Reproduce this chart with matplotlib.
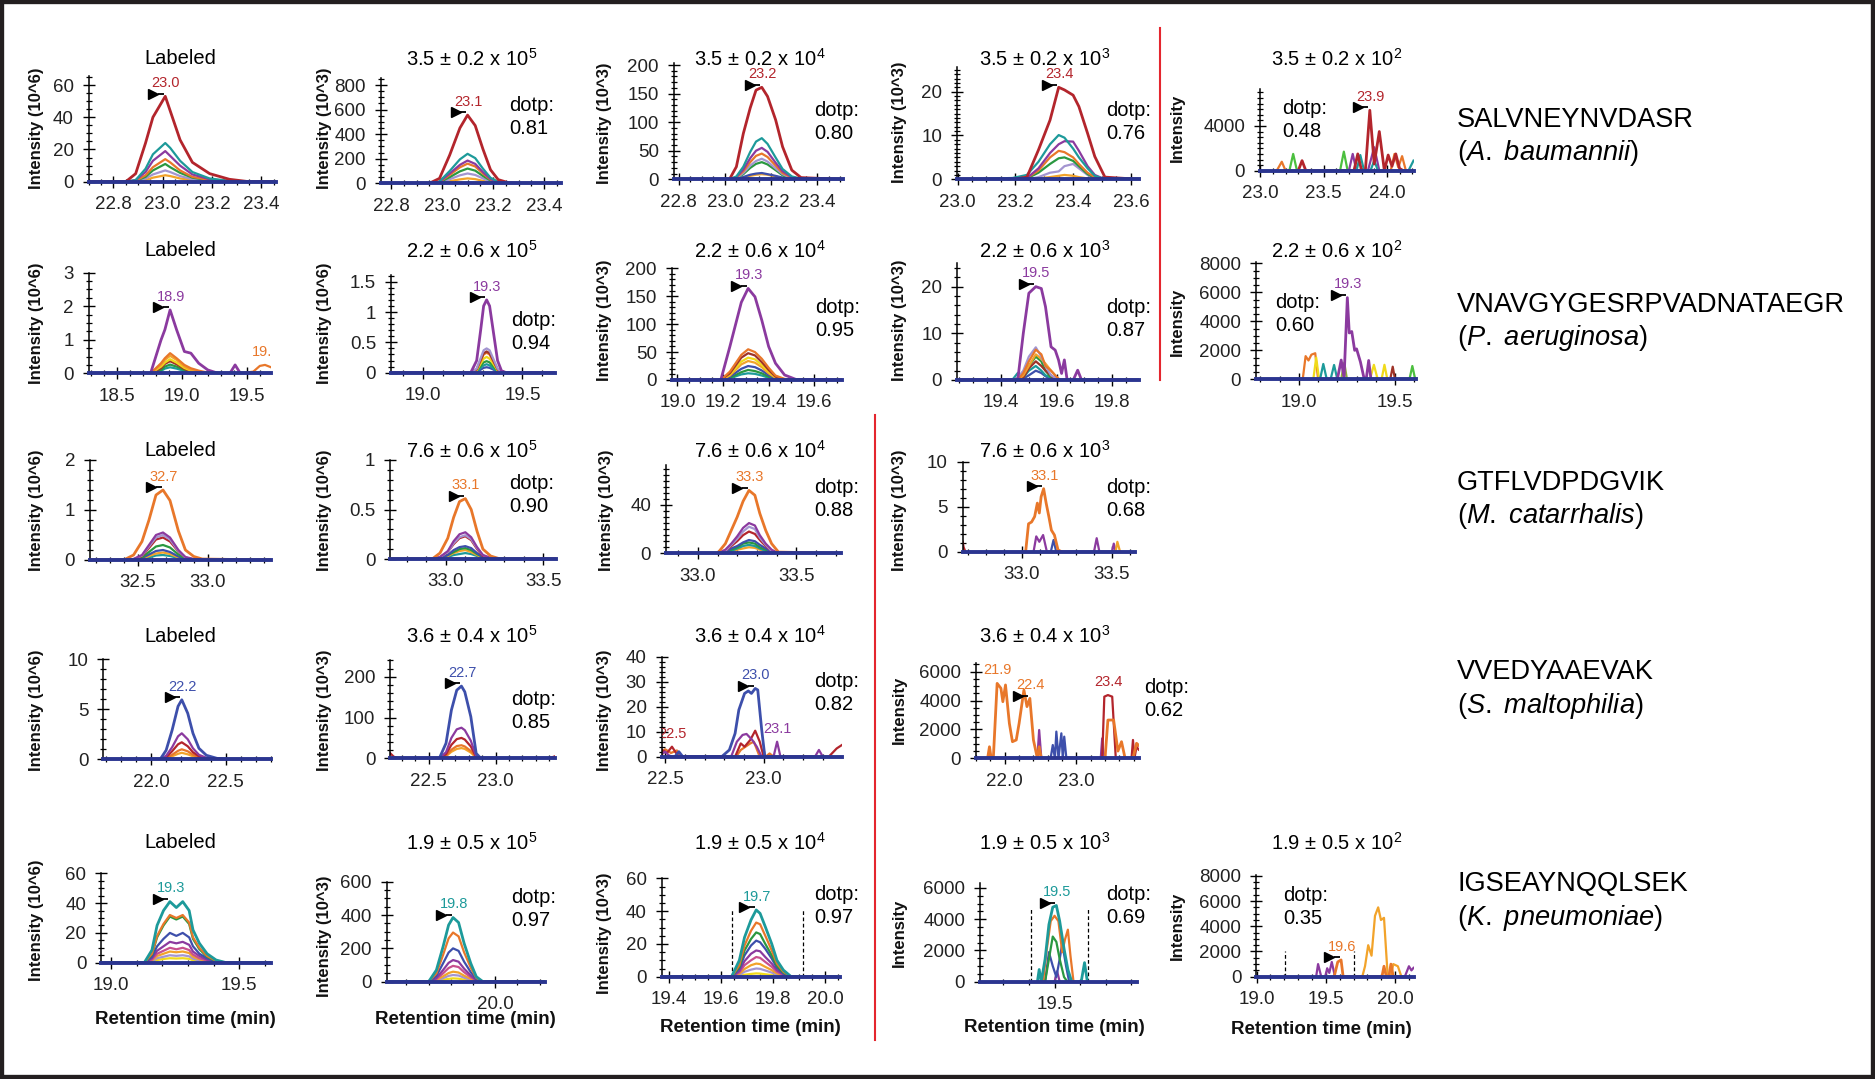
import numpy as np
import matplotlib
matplotlib.use("Agg")
import matplotlib.pyplot as plt
from matplotlib.ticker import MultipleLocator, FormatStrFormatter, FuncFormatter
from matplotlib.transforms import offset_copy, Bbox, TransformedBbox
from matplotlib.patches import Rectangle
from matplotlib.lines import Line2D

plt.rcParams['font.family'] = ['Liberation Sans', 'DejaVu Sans']
plt.rcParams['mathtext.fontset'] = 'custom'
plt.rcParams['mathtext.rm'] = 'Liberation Sans'
plt.rcParams['mathtext.it'] = 'Liberation Sans:italic'
plt.rcParams['mathtext.bf'] = 'Liberation Sans:bold'
plt.rcParams['mathtext.default'] = 'regular'

# ---------------------------------------------------------------- data
# A. baumannii  SALVNEYNVDASR
AB_1 = dict(rt=[22.70, 22.85, 22.89, 22.93, 22.96, 23.01, 23.03, 23.07, 23.12, 23.19, 23.27, 23.35, 23.457],
            gold=[0, 0, 0, 1, 2.5, 4, 3.5, 2, 1, 0.3, 0, 0, 0],
            lav=[0, 0, 0, 2, 4.5, 7, 6, 3.5, 1.5, 0.5, 0, 0, 0],
            green=[0, 0, 0.5, 3, 7, 11, 9, 5.5, 2.5, 0.8, 0, 0, 0],
            orange=[0, 0, 0.5, 4, 9, 14, 12, 7, 3, 1, 0, 0, 0],
            purple=[0, 0, 1, 6, 13, 19, 16, 10, 4.5, 1.5, 0.3, 0, 0],
            teal=[0, 0, 1, 8, 17, 24, 21, 13, 6, 2, 0.5, 0, 0],
            red=[0, 0, 5, 24, 40, 53, 44, 26, 12, 5, 1.5, 0, 0])
AB_2 = dict(rt=[22.76, 22.95, 22.99, 23.03, 23.07, 23.10, 23.13, 23.16, 23.19, 23.22, 23.26, 23.30, 23.465],
            gold=[0, 0, 3, 17, 32, 40, 34, 20, 8, 2, 0, 0, 0],
            lav=[0, 0, 5, 33, 65, 80, 68, 40, 15, 4, 0, 0, 0],
            green=[0, 0, 8, 50, 97, 120, 103, 60, 23, 6, 1, 0, 0],
            orange=[0, 0, 10, 68, 130, 160, 137, 80, 30, 8, 1, 0, 0],
            purple=[0, 0, 12, 80, 150, 185, 158, 92, 35, 9, 1, 0, 0],
            teal=[0, 0, 15, 100, 195, 240, 205, 120, 45, 12, 2, 0, 0],
            red=[0, 0, 40, 230, 450, 555, 470, 280, 110, 30, 5, 0, 0])
AB_3 = dict(rt=[22.78, 23.02, 23.05, 23.08, 23.11, 23.135, 23.16, 23.185, 23.22, 23.25, 23.29, 23.33, 23.51],
            gold=[0, 0, 1, 3, 6, 8, 9, 8, 5, 2, 0.5, 0, 0],
            blue=[0, 0, 1, 4, 8, 10, 11, 9, 6, 3, 1, 0, 0],
            green=[0, 0, 2, 9, 20, 27, 30, 26, 16, 7, 2, 0, 0],
            lav=[0, 0, 2, 11, 24, 32, 36, 31, 19, 9, 2, 0, 0],
            orange=[0, 0, 3, 14, 30, 41, 45, 39, 24, 11, 3, 0, 0],
            purple=[0, 0, 4, 17, 37, 50, 55, 48, 29, 14, 4, 0.5, 0],
            teal=[0, 0, 5, 22, 48, 66, 72, 62, 38, 18, 5, 1, 0],
            red=[0, 0, 22, 80, 125, 156, 161, 145, 104, 57, 16, 3, 0])
AB_4 = dict(rt=[22.998, 23.19, 23.24, 23.28, 23.32, 23.35, 23.37, 23.40, 23.42, 23.45, 23.475, 23.51, 23.627],
            gold=[0, 0, 0, 0.2, 0.5, 0.8, 1, 0.8, 0.5, 0.2, 0, 0, 0],
            lav=[0, 0, 0, 0.5, 1.5, 1.8, 3, 3.5, 2.5, 1, 0.2, 0, 0],
            green=[0, 0, 0.2, 1.5, 3.5, 4.8, 5, 4.2, 3, 1.2, 0.3, 0, 0],
            orange=[0, 0, 0.3, 2, 5, 6.5, 6.2, 5, 3.5, 1.5, 0.5, 0, 0],
            purple=[0, 0, 0.3, 2.5, 6, 8, 8.7, 8.6, 6.5, 3, 1, 0, 0],
            teal=[0, 0.3, 1, 4, 8, 10.1, 9.5, 7, 5, 2.5, 0.8, 0, 0],
            red=[0, 0, 0.5, 6.7, 13.5, 21, 20.4, 19.2, 16.6, 10.5, 5.2, 0.5, 0])
AB_5 = dict(orange=([23.13, 23.17, 23.20, 24.03, 24.06, 24.09, 24.12, 24.15],
                    [0, 800, 0, 0, 1500, 300, 1300, 0]),
            ltgreen=([23.23, 23.26, 23.29, 23.63, 23.66, 23.69], [0, 1500, 0, 0, 1700, 0]),
            purple=([23.70, 23.73, 23.76, 23.85, 23.90, 23.94], [0, 1500, 0, 0, 2100, 0]),
            teal=([23.76, 23.79, 23.82, 23.87, 23.90, 23.93, 24.17, 24.21], [0, 1400, 0, 0, 900, 0, 0, 900]),
            red=([23.30, 23.33, 23.36, 23.74, 23.77, 23.80, 23.83, 23.865, 23.90, 23.94, 23.98, 24.01, 24.04, 24.07, 24.10, 24.13],
                 [0, 900, 0, 0, 1500, 0, 0, 5400, 600, 3500, 0, 1400, 400, 1500, 200, 0]))

# P. aeruginosa  VNAVGYGESRPVADNATAEGR
PA_1 = dict(rt=[18.285, 18.76, 18.84, 18.87, 18.91, 18.96, 19.02, 19.07, 19.13, 19.20, 19.28, 19.37, 19.41, 19.45, 19.55, 19.60, 19.64, 19.686],
            teal=[0, 0, 0.07, 0.14, 0.18, 0.14, 0.07, 0.03, 0, 0, 0, 0, 0, 0, 0, 0, 0, 0],
            green=[0, 0, 0.1, 0.2, 0.26, 0.2, 0.1, 0.05, 0.01, 0, 0, 0, 0, 0, 0, 0, 0, 0],
            brown=[0, 0, 0.15, 0.28, 0.36, 0.27, 0.13, 0.06, 0.02, 0, 0, 0, 0, 0, 0, 0, 0, 0],
            yellow=[0, 0, 0.2, 0.32, 0.42, 0.32, 0.16, 0.08, 0.03, 0, 0, 0, 0, 0, 0, 0, 0, 0],
            gold=[0, 0, 0.25, 0.4, 0.52, 0.4, 0.2, 0.1, 0.05, 0, 0, 0, 0, 0, 0, 0, 0, 0],
            orange=[0, 0, 0.3, 0.45, 0.6, 0.45, 0.25, 0.15, 0.08, 0.02, 0, 0, 0, 0, 0.05, 0.22, 0.25, 0.18],
            purple=[0, 0, 0.99, 1.3, 1.89, 1.3, 0.65, 0.6, 0.3, 0.1, 0, 0, 0.25, 0, 0, 0, 0, 0])
PA_2 = dict(rt=[18.839, 19.24, 19.27, 19.29, 19.305, 19.32, 19.335, 19.355, 19.375, 19.395, 19.42, 19.664],
            blue=[0, 0, 0.01, 0.05, 0.08, 0.09, 0.08, 0.05, 0.01, 0, 0, 0],
            teal=[0, 0, 0.02, 0.08, 0.12, 0.14, 0.12, 0.07, 0.02, 0, 0, 0],
            green=[0, 0, 0.03, 0.11, 0.17, 0.19, 0.17, 0.1, 0.03, 0, 0, 0],
            yellow=[0, 0, 0.04, 0.15, 0.23, 0.26, 0.23, 0.14, 0.04, 0, 0, 0],
            orange=[0, 0, 0.05, 0.19, 0.3, 0.33, 0.3, 0.18, 0.05, 0.01, 0, 0],
            brown=[0, 0, 0.06, 0.21, 0.32, 0.35, 0.32, 0.19, 0.06, 0.01, 0, 0],
            lav=[0, 0, 0.07, 0.24, 0.37, 0.4, 0.37, 0.22, 0.07, 0.01, 0, 0],
            purple=[0, 0, 0.2, 0.7, 1.1, 1.2, 1.1, 0.65, 0.2, 0.03, 0, 0])
PA_3 = dict(rt=[18.975, 19.19, 19.23, 19.28, 19.31, 19.34, 19.37, 19.40, 19.43, 19.47, 19.52, 19.722],
            teal=[0, 0, 3, 10, 12, 11, 8, 4, 1, 0, 0, 0],
            green=[0, 0, 4, 14, 18, 16, 12, 6, 2, 0, 0, 0],
            blue=[0, 0, 6, 20, 25, 23, 17, 9, 3, 0.5, 0, 0],
            gold=[0, 0, 8, 28, 34, 31, 23, 12, 4, 1, 0, 0],
            yellow=[0, 0, 10, 33, 40, 37, 27, 15, 5, 1, 0, 0],
            brown=[0, 0, 12, 40, 48, 44, 32, 18, 6, 1, 0, 0],
            orange=[0, 0, 15, 45, 55, 50, 38, 22, 8, 2, 0, 0],
            purple=[0, 0, 60, 139, 164, 149, 107, 60, 30, 9, 1, 0])
PA_4 = dict(rt=[19.241, 19.44, 19.46, 19.48, 19.50, 19.525, 19.545, 19.56, 19.58, 19.595, 19.607, 19.618, 19.628, 19.638, 19.66, 19.676, 19.69, 19.896],
            blue=[0, 0, 0, 0.3, 1, 2, 1.5, 0.8, 0.2, 0, 0, 0, 0, 0, 0, 0, 0, 0],
            teal=[0, 0, 1.5, 0.5, 2, 3, 2, 1, 0.5, 0, 0, 0, 0, 0, 0, 0, 0, 0],
            green=[0, 0, 0, 1, 3, 5, 4, 2, 0.5, 0, 0, 0, 0, 0, 0, 0, 0, 0],
            brown=[0, 0, 0, 0.5, 2.5, 4, 3, 2, 1, 0, 0, 0, 0, 0, 0, 0, 0, 0],
            gold=[0, 0, 0, 1, 3, 5.5, 4.5, 3.5, 2, 1, 0, 0, 0, 0, 0, 0, 0, 0],
            lav=[0, 0, 0.5, 2, 5, 7, 5, 3, 1, 0.5, 0, 0, 0, 0, 0, 0, 0, 0],
            orange=[0, 0, 0, 1.5, 4, 6.5, 5.5, 3, 2, 1, 0.3, 0, 0, 0, 0, 0, 0, 0],
            purple=[0, 0, 0, 10, 18.6, 20, 19.6, 15.7, 7.1, 6.4, 4.3, 1.4, 4.3, 0, 0, 2.1, 0, 0])
PA_5 = dict(orange=([19.02, 19.035, 19.05, 19.065, 19.085, 19.10], [0, 1600, 1300, 1700, 1800, 0]),
            yellow=([19.075, 19.09, 19.105, 19.37, 19.39, 19.41, 19.43, 19.445, 19.46], [0, 1500, 0, 0, 1000, 0, 0, 1000, 0]),
            teal=([19.11, 19.127, 19.145, 19.165, 19.183, 19.20], [0, 1060, 0, 0, 990, 0]),
            olive=([19.22, 19.236, 19.25], [0, 1150, 0]),
            brown=([19.475, 19.488, 19.50], [0, 870, 0]),
            ltgreen=([19.575, 19.59, 19.605], [0, 920, 0]),
            purple=([19.20, 19.22, 19.235, 19.252, 19.262, 19.275, 19.29, 19.30, 19.32, 19.34, 19.35, 19.363, 19.375],
                    [0, 1330, 100, 5640, 3200, 3300, 2000, 2100, 1200, 0, 0, 1300, 0]))

# M. catarrhalis  GTFLVDPDGVIK
MC_1 = dict(rt=[32.159, 32.40, 32.47, 32.53, 32.58, 32.63, 32.68, 32.73, 32.79, 32.84, 32.90, 32.96, 33.451],
            teal=[0, 0, 0, 0.02, 0.05, 0.09, 0.1, 0.08, 0.04, 0.01, 0, 0, 0],
            gold=[0, 0, 0, 0.03, 0.08, 0.13, 0.15, 0.12, 0.05, 0.01, 0, 0, 0],
            blue=[0, 0, 0, 0.04, 0.11, 0.18, 0.2, 0.16, 0.07, 0.02, 0, 0, 0],
            green=[0, 0, 0.01, 0.05, 0.16, 0.27, 0.3, 0.25, 0.11, 0.03, 0, 0, 0],
            red=[0, 0, 0.01, 0.08, 0.24, 0.41, 0.45, 0.37, 0.17, 0.05, 0.01, 0, 0],
            lav=[0, 0, 0.02, 0.09, 0.27, 0.45, 0.5, 0.41, 0.18, 0.05, 0.01, 0, 0],
            purple=[0, 0, 0.02, 0.1, 0.3, 0.5, 0.55, 0.45, 0.2, 0.06, 0.02, 0, 0],
            orange=[0, 0, 0.1, 0.37, 0.8, 1.3, 1.4, 1.19, 0.58, 0.2, 0.07, 0.02, 0])
MC_2 = dict(rt=[32.716, 32.93, 32.97, 33.01, 33.04, 33.07, 33.10, 33.13, 33.16, 33.19, 33.23, 33.28, 33.563],
            teal=[0, 0, 0, 0.02, 0.04, 0.05, 0.06, 0.05, 0.03, 0.01, 0, 0, 0],
            gold=[0, 0, 0.01, 0.03, 0.06, 0.08, 0.09, 0.07, 0.04, 0.01, 0, 0, 0],
            green=[0, 0, 0.01, 0.04, 0.07, 0.1, 0.11, 0.09, 0.05, 0.02, 0, 0, 0],
            blue=[0, 0, 0.01, 0.04, 0.09, 0.12, 0.13, 0.11, 0.06, 0.02, 0, 0, 0],
            red=[0, 0, 0.02, 0.07, 0.15, 0.21, 0.23, 0.19, 0.1, 0.03, 0.01, 0, 0],
            lav=[0, 0, 0.02, 0.07, 0.16, 0.22, 0.24, 0.2, 0.11, 0.04, 0.01, 0, 0],
            purple=[0, 0, 0.02, 0.08, 0.18, 0.25, 0.27, 0.22, 0.12, 0.04, 0.01, 0, 0],
            orange=[0, 0, 0.06, 0.21, 0.42, 0.58, 0.61, 0.5, 0.28, 0.1, 0.03, 0, 0])
MC_3 = dict(rt=[32.838, 33.10, 33.14, 33.17, 33.20, 33.23, 33.26, 33.29, 33.315, 33.345, 33.375, 33.41, 33.73],
            gold=[0, 0, 0.5, 1.5, 3, 4, 5, 4.5, 3, 1.5, 0.5, 0, 0],
            teal=[0, 0, 1, 2, 4, 6, 7, 6, 4, 2, 0.5, 0, 0],
            green=[0, 0, 1, 3, 5, 8, 9, 8, 5, 3, 1, 0, 0],
            blue=[0, 0, 1, 4, 6, 9, 11, 10, 7, 4, 1, 0, 0],
            red=[0, 0, 2, 6, 10, 15, 18, 16, 11, 6, 2, 0, 0],
            lav=[0, 0, 2, 7, 12, 18, 22, 20, 13, 7, 2, 0, 0],
            purple=[0, 0, 3, 8, 14, 21, 25, 23, 15, 8, 3, 0, 0],
            orange=[0, 0, 8, 19, 30, 43, 52, 48, 33, 19, 8, 1, 0])
MC_4 = dict(red=([32.67, 32.675, 32.685], [1.1, 0.5, 0]),
            purple=([33.064, 33.079, 33.096, 33.117, 33.138, 33.40, 33.415, 33.43, 33.50, 33.51, 33.52],
                    [0, 1.7, 1.1, 1.85, 0, 0, 1.5, 0, 0, 0.9, 0]),
            blue=([33.16, 33.175, 33.19], [0, 1.3, 0]),
            gold=([33.52, 33.53, 33.545], [0, 1.1, 0]),
            orange=([33.02, 33.036, 33.053, 33.07, 33.085, 33.096, 33.106, 33.12, 33.134, 33.149, 33.163, 33.18, 33.20, 33.22],
                    [0, 3.1, 3.3, 3.9, 5.4, 4.3, 6.1, 7.0, 5.4, 3.9, 2.4, 1.85, 0.2, 0]))

# S. maltophilia  VVEDYAAEVAK
SM_1 = dict(rt=[21.679, 22.06, 22.10, 22.14, 22.18, 22.205, 22.245, 22.28, 22.32, 22.37, 22.44, 22.50, 22.803],
            gold=[0, 0, 0.05, 0.3, 0.55, 0.65, 0.5, 0.3, 0.12, 0.04, 0, 0, 0],
            orange=[0, 0, 0.1, 0.45, 0.85, 1.0, 0.8, 0.45, 0.2, 0.06, 0, 0, 0],
            red=[0, 0, 0.2, 0.8, 1.5, 1.7, 1.3, 0.7, 0.3, 0.1, 0.02, 0, 0],
            purple=[0, 0, 0.35, 1.2, 2.3, 2.6, 2.0, 1.1, 0.45, 0.15, 0.03, 0, 0],
            blue=[0, 0, 0.9, 2.9, 5.3, 5.95, 4.6, 2.6, 1.1, 0.4, 0.1, 0, 0])
SM_2 = dict(rt=[22.215, 22.24, 22.27, 22.58, 22.63, 22.67, 22.71, 22.745, 22.77, 22.815, 22.855, 22.89, 23.40, 23.443],
            gold=[0, 0, 0, 0, 5, 16, 23, 25, 23, 14, 1.5, 0, 0, 0],
            orange=[0, 0, 0, 0, 6, 21, 30, 32, 29, 18, 2, 0, 0, 0],
            red=[12, 4, 0, 0, 10, 33, 47, 50, 46, 29, 3, 0, 0, 5],
            purple=[0, 0, 0, 0, 15, 50, 71, 75, 69, 43, 5, 0, 0, 0],
            blue=[0, 0, 0, 0, 37, 118, 167, 177, 163, 102, 12, 0, 0, 0])
SM_3 = dict(orange=([22.482, 22.50, 22.53, 22.56, 22.58, 22.86, 22.884, 22.932, 22.95, 22.98, 23.01, 23.03, 23.05],
                    [0.5, 3, 1.5, 2.5, 0, 0, 2.7, 5.3, 6, 0, 0, 1.3, 0]),
            red=([22.482, 22.486, 22.51, 22.535, 22.564, 22.58, 22.855, 22.884, 22.903, 22.932, 22.957, 22.98, 23.0, 23.33, 23.37, 23.397],
                 [1, 2.7, 1.5, 4, 0.5, 0, 0, 5.3, 4, 6.7, 10.4, 6, 0, 0, 3.3, 4.7]),
            purple=([22.482, 22.50, 22.52, 22.54, 22.835, 22.864, 22.893, 22.913, 22.942, 22.965, 22.99, 23.05, 23.068, 23.085, 23.26, 23.28, 23.30],
                    [1, 2, 0.5, 0, 0, 6, 8.7, 9.1, 6.7, 4, 0, 0, 6, 0, 0, 2.7, 0]),
            blue=([22.55, 22.57, 22.59, 22.787, 22.826, 22.855, 22.874, 22.903, 22.922, 22.938, 22.957, 22.97, 22.99, 23.006],
                  [0, 2, 0, 0, 2.7, 9.3, 18.7, 25.3, 26.3, 25.3, 27.3, 26.7, 10.7, 0]))
SM_4 = dict(blue=([22.64, 22.67, 22.70, 22.72, 22.75, 22.79, 22.81, 22.83, 22.86],
                  [0, 920, 0, 1850, 0, 1730, 0, 1500, 0]),
            purple=([22.455, 22.48, 22.51, 23.34, 23.36, 23.38], [0, 1960, 0, 0, 1380, 0]),
            red=([23.36, 23.39, 23.44, 23.50, 23.55, 23.77, 23.79, 23.81, 23.84, 23.87],
                 [0, 4270, 4380, 4270, 0, 0, 1270, 0, 800, 600]),
            orange=([21.76, 21.786, 21.81, 21.84, 21.893, 21.946, 21.973, 22.01, 22.064, 22.107, 22.16, 22.2, 22.267, 22.31,
                     22.35, 22.40, 22.455, 22.48, 22.51, 23.40, 23.44, 23.52, 23.58, 23.63, 23.68, 23.79, 23.84, 23.87],
                    [0, 800, 0, 0, 5190, 4850, 3920, 5080, 2420, 1150, 1270, 2420, 4730, 3580,
                     4150, 1270, 0, 800, 0, 0, 2650, 2650, 500, 1150, 0, 0, 1040, 900]))

# K. pneumoniae  IGSEAYNQQLSEK
KP_1 = dict(rt=[18.963, 19.13, 19.16, 19.18, 19.205, 19.23, 19.255, 19.28, 19.305, 19.32, 19.345, 19.375, 19.41, 19.45, 19.624],
            yellow=[0, 0, 0.6, 1.8, 2.5, 3, 2.8, 3, 2.6, 1.6, 0.9, 0.4, 0.1, 0, 0],
            lav=[0, 0, 1, 3, 4, 5, 4.6, 5, 4.3, 2.7, 1.5, 0.7, 0.2, 0, 0],
            gold=[0, 0, 1.5, 4.5, 6, 7.5, 7, 7.5, 6.5, 4, 2.3, 1, 0.3, 0, 0],
            pink=[0, 0, 2, 6, 8, 10, 9, 10, 8.5, 5.5, 3, 1.5, 0.4, 0, 0],
            purple=[0, 0, 3, 8, 11, 14, 13, 14, 12, 7.5, 4.5, 2, 0.5, 0, 0],
            blue=[0, 0, 4, 11, 16, 20, 18, 20, 17, 11, 6, 3, 0.8, 0, 0],
            green=[0, 0, 5.5, 17, 25, 31, 29, 31, 26, 16, 9, 4, 1, 0, 0],
            orange=[0, 0, 6, 18, 26, 32, 30, 32, 27, 17, 10, 4.5, 1.3, 0, 0],
            teal=[0, 0, 8.5, 25, 35, 41, 37, 41, 35, 22, 13, 6, 1.8, 0, 0])
KP_2 = dict(rt=[19.51, 19.70, 19.735, 19.765, 19.79, 19.81, 19.835, 19.86, 19.89, 19.915, 19.945, 20.226],
            yellow=[0, 0, 3, 11, 17, 20, 18, 12, 6, 2, 0, 0],
            lav=[0, 0, 7, 21, 35, 40, 37, 24, 11, 3, 0, 0],
            gold=[0, 0, 10, 32, 52, 60, 55, 36, 17, 5, 0, 0],
            pink=[0, 0, 16, 50, 82, 95, 88, 57, 27, 7, 0, 0],
            purple=[0, 0, 22, 70, 113, 130, 120, 78, 37, 10, 0, 0],
            blue=[0, 0, 35, 110, 175, 200, 185, 120, 57, 16, 0, 0],
            orange=[0, 0, 50, 160, 260, 295, 272, 176, 84, 23, 0, 0],
            teal=[0, 0, 70, 210, 340, 385, 355, 230, 110, 30, 0, 0])
KP_3 = dict(rt=[19.37, 19.64, 19.67, 19.69, 19.715, 19.735, 19.75, 19.77, 19.795, 19.815, 19.84, 19.87, 20.058],
            yellow=[0, 0, 0.5, 1.2, 1.7, 2, 1.9, 1.5, 1, 0.5, 0.2, 0, 0],
            lav=[0, 0, 1.1, 3, 4.3, 5, 4.8, 3.8, 2.5, 1.2, 0.4, 0, 0],
            gold=[0, 0, 1.8, 4.7, 7, 8, 7.7, 6, 4, 2, 0.7, 0, 0],
            pink=[0, 0, 2.6, 7, 10, 12, 11.5, 9, 6, 3, 1, 0, 0],
            purple=[0, 0, 3.5, 9.5, 14, 16, 15.5, 12, 8, 4, 1.5, 0, 0],
            blue=[0, 0, 5, 13, 19, 22, 21, 17, 11, 5.5, 2, 0, 0],
            green=[0, 0, 6, 16, 23, 27, 26, 20, 13, 6.5, 2.5, 0, 0],
            orange=[0, 0, 7, 19, 28, 33, 32, 25, 16, 8, 3, 0, 0],
            teal=[0, 0, 10, 24, 34.6, 40.7, 38.6, 30.5, 20, 10, 4, 0, 0])
KP_4 = dict(purple=([19.50, 19.51, 19.52], [0, 670, 0]),
            blue=([19.463, 19.478, 19.493, 19.507, 19.52, 19.53, 19.545, 19.557], [0, 1890, 1000, 300, 1450, 2440, 1000, 0]),
            green=([19.463, 19.478, 19.493, 19.507, 19.52, 19.537, 19.55], [0, 1450, 2890, 2550, 1450, 300, 0]),
            orange=([19.455, 19.47, 19.485, 19.50, 19.515, 19.53, 19.54, 19.552, 19.562, 19.574],
                    [0, 2110, 3880, 4220, 3880, 1890, 2660, 3330, 1670, 0]),
            teal=([19.433, 19.44, 19.448, 19.463, 19.478, 19.493, 19.507, 19.52, 19.537, 19.552, 19.567, 19.604, 19.617, 19.628],
                  [0, 780, 0, 1440, 3660, 4770, 4880, 3880, 2110, 780, 0, 0, 1220, 0]))
KP_5 = dict(gold=([19.763, 19.783, 19.806, 19.83, 19.855, 19.878, 19.898, 19.92, 19.947, 19.97, 19.987, 20.02, 20.046],
                  [0, 830, 2500, 1670, 4830, 5500, 4500, 4670, 0, 0, 1000, 830, 0]),
            purple=([19.43, 19.444, 19.467, 19.495, 19.51, 19.525, 19.543, 19.566, 20.07, 20.10, 20.118, 20.133],
                    [0, 1000, 0, 0, 670, 300, 1170, 0, 0, 830, 500, 700]),
            orange=([19.56, 19.586, 19.61, 19.625, 19.905, 19.92, 19.937, 19.955, 19.97, 19.987],
                    [0, 1170, 1330, 0, 0, 830, 0, 0, 1000, 0]))

# integration boundaries (retention time)
BOUNDS = {'KP_3': [19.64, 19.917], 'KP_4': [19.41, 19.63], 'KP_5': [19.207, 19.70]}

# labelled peaks: (retention-time label, trace); first one gets the arrow
PEAKS = {
    'AB_1': [('23.0', 'red')], 'AB_2': [('23.1', 'red')], 'AB_3': [('23.2', 'red')],
    'AB_4': [('23.4', 'red')], 'AB_5': [('23.9', 'red')],
    'PA_1': [('18.9', 'purple'), ('19.6', 'orange')], 'PA_2': [('19.3', 'purple')],
    'PA_3': [('19.3', 'purple')], 'PA_4': [('19.5', 'purple')], 'PA_5': [('19.3', 'purple')],
    'MC_1': [('32.7', 'orange')], 'MC_2': [('33.1', 'orange')], 'MC_3': [('33.3', 'orange')],
    'MC_4': [('33.1', 'orange')],
    'SM_1': [('22.2', 'blue')], 'SM_2': [('22.7', 'blue')],
    'SM_3': [('23.0', 'blue'), ('22.5', 'red'), ('23.1', 'purple')],
    'SM_4': [('22.4', 'orange'), ('21.9', 'orange'), ('23.4', 'red')],
    'KP_1': [('19.3', 'teal')], 'KP_2': [('19.8', 'teal')], 'KP_3': [('19.7', 'teal')],
    'KP_4': [('19.5', 'teal')], 'KP_5': [('19.6', 'orange')],
}

TITLES = {
    'AB_1': 'Labeled', 'AB_2': '3.5 ± 0.2 x 10$^{5}$', 'AB_3': '3.5 ± 0.2 x 10$^{4}$',
    'AB_4': '3.5 ± 0.2 x 10$^{3}$', 'AB_5': '3.5 ± 0.2 x 10$^{2}$',
    'PA_1': 'Labeled', 'PA_2': '2.2 ± 0.6 x 10$^{5}$', 'PA_3': '2.2 ± 0.6 x 10$^{4}$',
    'PA_4': '2.2 ± 0.6 x 10$^{3}$', 'PA_5': '2.2 ± 0.6 x 10$^{2}$',
    'MC_1': 'Labeled', 'MC_2': '7.6 ± 0.6 x 10$^{5}$', 'MC_3': '7.6 ± 0.6 x 10$^{4}$',
    'MC_4': '7.6 ± 0.6 x 10$^{3}$',
    'SM_1': 'Labeled', 'SM_2': '3.6 ± 0.4 x 10$^{5}$', 'SM_3': '3.6 ± 0.4 x 10$^{4}$',
    'SM_4': '3.6 ± 0.4 x 10$^{3}$',
    'KP_1': 'Labeled', 'KP_2': '1.9 ± 0.5 x 10$^{5}$', 'KP_3': '1.9 ± 0.5 x 10$^{4}$',
    'KP_4': '1.9 ± 0.5 x 10$^{3}$', 'KP_5': '1.9 ± 0.5 x 10$^{2}$',
}

DOTP = {'AB_2': '0.81', 'AB_3': '0.80', 'AB_4': '0.76', 'AB_5': '0.48',
        'PA_2': '0.94', 'PA_3': '0.95', 'PA_4': '0.87', 'PA_5': '0.60',
        'MC_2': '0.90', 'MC_3': '0.88', 'MC_4': '0.68',
        'SM_2': '0.85', 'SM_3': '0.82', 'SM_4': '0.62',
        'KP_2': '0.97', 'KP_3': '0.97', 'KP_4': '0.69', 'KP_5': '0.35'}

PEPTIDES = ['SALVNEYNVDASR', 'VNAVGYGESRPVADNATAEGR', 'GTFLVDPDGVIK', 'VVEDYAAEVAK', 'IGSEAYNQQLSEK']
SPECIES = ['A.\\ baumannii', 'P.\\ aeruginosa', 'M.\\ catarrhalis', 'S.\\ maltophilia', 'K.\\ pneumoniae']

PANELS = dict(AB_1=AB_1, AB_2=AB_2, AB_3=AB_3, AB_4=AB_4, AB_5=AB_5,
              PA_1=PA_1, PA_2=PA_2, PA_3=PA_3, PA_4=PA_4, PA_5=PA_5,
              MC_1=MC_1, MC_2=MC_2, MC_3=MC_3, MC_4=MC_4,
              SM_1=SM_1, SM_2=SM_2, SM_3=SM_3, SM_4=SM_4,
              KP_1=KP_1, KP_2=KP_2, KP_3=KP_3, KP_4=KP_4, KP_5=KP_5)

# ---------------------------------------------------------------- layout / style
W, H, DPI = 1875, 1079, 100
COL = {'red': '#b3252c', 'teal': '#1d9a9a', 'purple': '#8b3a9f', 'orange': '#e8772a',
       'green': '#2a9840', 'blue': '#3d4fab', 'gold': '#f2a32a', 'yellow': '#f0da1a',
       'lav': '#a395d0', 'brown': '#9e3328', 'olive': '#8fae3c', 'pink': '#c8508e',
       'ltgreen': '#4cbf3f'}
NAVY = '#2b3590'

# key, x0, x1, ytop, y0 (pixels), xlo, xhi, ymax, xmaj, xmin, ymaj, ymin, y-unit, ylabel x, ylabel y
LAYOUT = [
    ('AB_1', 88.8, 275.5, 76, 181.7, 22.70, 23.457, 65.6, 0.2, 0.05, 20, 5, '6', 36.4, 128),
    ('AB_2', 380.8, 560.7, 78, 183.3, 22.76, 23.465, 857, 0.2, 0.05, 200, 50, '3', 325, 128),
    ('AB_3', 673.8, 843.3, 63.3, 179.3, 22.779, 23.513, 203, 0.2, 0.05, 50, 10, '3', 605, 123),
    ('AB_4', 957, 1138.7, 66.7, 179.3, 22.998, 23.627, 25.7, 0.2, 0.05, 10, 1, '3', 899.6, 122),
    ('AB_5', 1260, 1413.5, 89, 170.7, 22.998, 24.21, 7300, 0.5, 0.1, 4000, 500, '', 1177.7, 128),
    ('PA_1', 88.8, 271, 272.7, 373.3, 18.285, 19.686, 3, 0.5, 0.1, 1, 0.25, '6', 36.4, 323),
    ('PA_2', 391, 555, 275, 372.7, 18.839, 19.664, 1.61, 0.5, 0.1, 0.5, 0.1, '6', 325, 323),
    ('PA_3', 671.8, 842, 268.3, 380, 18.975, 19.722, 200, 0.2, 0.05, 50, 10, '3', 605, 320),
    ('PA_4', 957, 1138.7, 263.3, 380, 19.241, 19.896, 25, 0.2, 0.05, 10, 2, '3', 899.6, 320),
    ('PA_5', 1256, 1415.8, 262, 379.3, 18.777, 19.608, 8100, 0.5, 0.1, 2000, 500, '', 1177.7, 322),
    ('MC_1', 90, 271, 460, 560, 32.159, 33.451, 2, 0.5, 0.1, 1, 0.2, '6', 36.4, 510),
    ('MC_2', 390.4, 555.7, 460, 559, 32.716, 33.563, 1, 0.5, 0.1, 0.5, 0.1, '6', 325, 510),
    ('MC_3', 666, 841.4, 465, 553.3, 32.838, 33.73, 73, 0.5, 0.1, 40, 5, '3', 607, 510),
    ('MC_4', 962.7, 1135, 461.7, 551.7, 32.67, 33.628, 10, 0.5, 0.1, 5, 1, '3', 899.6, 510),
    ('SM_1', 103.3, 271, 659.3, 759.3, 21.679, 22.803, 10, 0.5, 0.1, 5, 1, '6', 36.4, 710),
    ('SM_2', 390.4, 555, 660, 758.3, 22.215, 23.443, 241, 0.5, 0.1, 100, 20, '3', 325, 710),
    ('SM_3', 661.5, 842, 656.7, 756.7, 22.482, 23.397, 40, 0.5, 0.1, 10, 2, '3', 605, 710),
    ('SM_4', 976, 1138.7, 663.3, 758.3, 21.598, 23.87, 6580, 1.0, 0.2, 2000, 500, '', 899.6, 710),
    ('KP_1', 101.4, 271, 873.3, 962.7, 18.963, 19.624, 60, 0.5, 0.1, 20, 5, '6', 36.4, 920),
    ('KP_2', 386.5, 545.3, 881.7, 981.7, 19.51, 20.226, 600, 0.5, 0.1, 200, 50, '3', 325, 936.7),
    ('KP_3', 661.5, 840, 878.3, 976.7, 19.37, 20.058, 60, 0.2, 0.05, 20, 5, '3', 605, 933),
    ('KP_4', 980, 1136.8, 883.3, 981.7, 19.209, 19.821, 6300, 0.5, 0.1, 2000, 500, '', 899.6, 933),
    ('KP_5', 1256.3, 1413.5, 874.6, 976.7, 18.998, 20.133, 8100, 0.5, 0.1, 2000, 500, '', 1177.7, 926),
]
TITLE_X = [180, 472, 760, 1045, 1337]
TITLE_Y = {'AB': 59, 'PA': 251, 'MC': 451, 'SM': 636, 'KP': 843}
DOTP_POS = {'AB_2': (509, 117), 'AB_3': (814, 122), 'AB_4': (1106, 122), 'AB_5': (1282, 120),
            'PA_2': (511, 332), 'PA_3': (815, 319), 'PA_4': (1106, 319), 'PA_5': (1275, 314),
            'MC_2': (509, 495), 'MC_3': (814, 499), 'MC_4': (1106, 499),
            'SM_2': (511, 711), 'SM_3': (814, 693), 'SM_4': (1144.5, 699),
            'KP_2': (511, 909), 'KP_3': (814, 906), 'KP_4': (1106, 906), 'KP_5': (1283, 907)}
BOUND_FRAC = {'KP_3': 0.68, 'KP_4': 0.76, 'KP_5': 0.25}
XLABEL_POS = {'KP_1': (185.6, 1020), 'KP_2': (465, 1020), 'KP_3': (750, 1028),
              'KP_4': (1054.5, 1028), 'KP_5': (1321, 1029)}
PEP_Y = [(120, 153), (305, 338), (483, 516), (672, 706), (884, 918)]

fig = plt.figure(figsize=(W / DPI, H / DPI), dpi=DPI)
fig.patch.set_facecolor('white')


def fx(px):
    return px / W


def fy(py):
    return 1 - py / H


def get_xy(panel, name):
    v = panel[name]
    if isinstance(v, tuple):
        return v
    return panel['rt'], v


def apex(xs, ys, center):
    xs = np.asarray(xs, float)
    ys = np.asarray(ys, float)
    idx = np.where((xs >= center - 0.1) & (xs <= center + 0.1))[0]
    i = idx[np.argmax(ys[idx])]
    return xs[i], ys[i]


for (key, x0, x1, yt, y0, xlo, xhi, ymax, xmaj, xmin, ymaj, ymin, yunit, ylx, yly) in LAYOUT:
    data = PANELS[key]
    ax = fig.add_axes([fx(x0), fy(y0), (x1 - x0) / W, (y0 - yt) / H])
    ax.patch.set_alpha(0)
    peaks = PEAKS[key]
    prim = peaks[0][1]
    names = [k for k in data if k not in ('rt', prim)] + [prim]
    for nm in names:
        xs, ys = get_xy(data, nm)
        ax.plot(xs, ys, color=COL[nm], lw=2.0 if nm == prim else 1.6,
                solid_joinstyle='round', zorder=3 if nm == prim else 2)
    ax.axhline(0, color=NAVY, lw=2.8, zorder=4, clip_on=False)

    for b in BOUNDS.get(key, []):
        ax.axvline(b, ymin=0, ymax=BOUND_FRAC[key], color='black', lw=0.9, ls=(0, (3, 2)), zorder=1)

    ax.set_xlim(xlo, xhi)
    ax.set_ylim(0, ymax)
    for s in ('top', 'right'):
        ax.spines[s].set_visible(False)
    for s in ('left', 'bottom'):
        ax.spines[s].set_linewidth(1.1)
        ax.spines[s].set_color('black')
    ax.xaxis.set_major_locator(MultipleLocator(xmaj))
    ax.xaxis.set_minor_locator(MultipleLocator(xmin))
    ax.yaxis.set_major_locator(MultipleLocator(ymaj))
    ax.yaxis.set_minor_locator(MultipleLocator(ymin))
    ax.xaxis.set_major_formatter(FormatStrFormatter('%.1f'))
    ax.yaxis.set_major_formatter(FuncFormatter(lambda v, p: f"{v:g}"))
    ax.tick_params(which='major', direction='inout', length=8.5, width=1.0, labelsize=13.5,
                   colors='black', labelcolor='#222222')
    ax.tick_params(axis='x', which='major', pad=6)
    ax.tick_params(axis='y', which='major', pad=6.5)
    ax.tick_params(which='minor', direction='inout', length=4.5, width=0.9, colors='black')

    clipbox = TransformedBbox(Bbox([[0, -1], [1, 3]]), ax.transAxes)
    for j, (lab, nm) in enumerate(peaks):
        xs, ys = get_xy(data, nm)
        px, py = apex(xs, ys, float(lab))
        t = ax.annotate(lab, xy=(px, py), xytext=(0.5, 9.5), textcoords='offset points',
                        ha='center', va='center', fontsize=10.5, color=COL[nm],
                        annotation_clip=False, zorder=6)
        t.set_clip_box(clipbox)
        t.set_clip_on(True)
        if j == 0:
            tri = offset_copy(ax.transData, fig=fig, x=-8.5, y=2.0, units='points')
            ax.plot([px], [py], marker='>', ms=7.5, color='black', transform=tri,
                    clip_on=False, zorder=7)
            tail = offset_copy(ax.transData, fig=fig, x=-3.2, y=2.0, units='points')
            ax.plot([px], [py], marker='_', ms=5, mew=1.3, color='black', transform=tail,
                    clip_on=False, zorder=7)
    ax.set_xlim(xlo, xhi)
    ax.set_ylim(0, ymax)

    ylab = 'Intensity (10^%s)' % yunit if yunit else 'Intensity'
    fig.text(fx(ylx), fy(yly), ylab, rotation=90, ha='center', va='center',
             fontsize=12, fontweight='bold', color='#111111')

    row, col = key.split('_')
    fig.text(fx(TITLE_X[int(col) - 1]), fy(TITLE_Y[row]), TITLES[key], ha='center', va='center',
             fontsize=14.5, color='black')
    if key in DOTP:
        dx, dy = DOTP_POS[key]
        fig.text(fx(dx), fy(dy), 'dotp:\n' + DOTP[key], ha='left', va='center',
                 fontsize=14.5, linespacing=1.22, color='black')
    if key in XLABEL_POS:
        lx, ly = XLABEL_POS[key]
        fig.text(fx(lx), fy(ly), 'Retention time (min)', ha='center', va='center',
                 fontsize=13.5, fontweight='bold', color='#111111')

for pep, sp, (y1, y2) in zip(PEPTIDES, SPECIES, PEP_Y):
    fig.text(fx(1457), fy(y1), pep, ha='left', va='center', fontsize=19.6, color='black')
    fig.text(fx(1457), fy(y2), '($\\mathit{%s}$)' % sp, ha='left', va='center', fontsize=19.6,
             color='black')

# red separators
fig.add_artist(Line2D([fx(1160), fx(1160)], [fy(28), fy(380)], color='#e4262e', lw=1.5))
fig.add_artist(Line2D([fx(874.7), fx(874.7)], [fy(415), fy(1040)], color='#e4262e', lw=1.5))

# outer frame
fig.add_artist(Rectangle((0, 0), 1, 1, transform=fig.transFigure, fill=False,
                         ec='#231f20', lw=6, zorder=20))

fig.savefig('out.png', dpi=DPI, facecolor='white')
